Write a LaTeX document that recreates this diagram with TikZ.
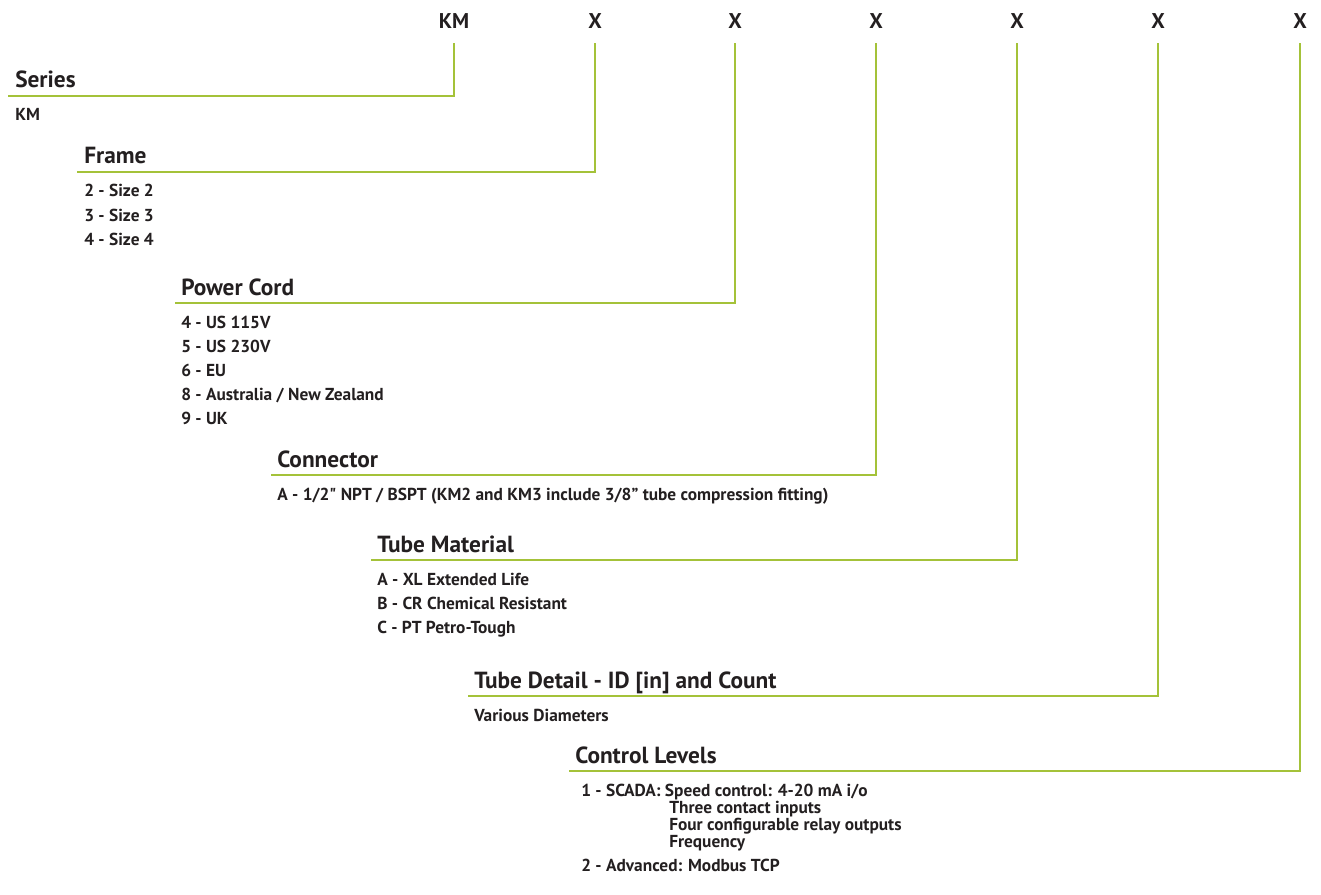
\documentclass[tikz,border=0pt]{standalone}
\usepackage{fontspec}
\setmainfont{PT Sans}[Ligatures=TeXOff]
\usepackage{tikz}
\usetikzlibrary{positioning}
\definecolor{leaf}{RGB}{164,194,57}
\definecolor{ink}{RGB}{35,31,32}

\begin{document}
\begin{tikzpicture}[x=0.75pt,y=-0.75pt]

% Define styles
\tikzstyle{code} = [font=\bfseries\fontsize{16}{18}\selectfont, text=ink, anchor=base, inner sep=0pt]
\tikzstyle{head} = [font=\bfseries\fontsize{17.5}{20}\selectfont, text=ink, anchor=base west, inner sep=0pt]
\tikzstyle{item} = [font=\bfseries\fontsize{13}{15}\selectfont, text=ink, anchor=base west, inner sep=0pt]
\tikzstyle{link} = [draw=leaf, line width=2pt]

\useasboundingbox (0,0) rectangle (1321,895);

% Define code letters
\node (km) [code] at (454,29) {KM};
\node (frame) [code] at (595,29) {X};
\node (cord) [code] at (735,29) {X};
\node (conn) [code] at (876,29) {X};
\node (mat) [code] at (1017,29) {X};
\node (detail) [code] at (1158,29) {X};
\node (ctrl) [code] at (1300,29) {X};

\coordinate (kmT) at ([yshift=-10.5pt]km.base);
\coordinate (frameT) at ([yshift=-10.5pt]frame.base);
\coordinate (cordT) at ([yshift=-10.5pt]cord.base);
\coordinate (connT) at ([yshift=-10.5pt]conn.base);
\coordinate (matT) at ([yshift=-10.5pt]mat.base);
\coordinate (detailT) at ([yshift=-10.5pt]detail.base);
\coordinate (ctrlT) at ([yshift=-10.5pt]ctrl.base);

% Series
\node (seriesH) [head] at (15,88) {Series};
\coordinate (seriesL) at (8,96);
\node (series1) [item] at (15,121) {KM};

% Frame
\node (frameH) [head] at (84,164) {Frame};
\coordinate (frameL) at (77,172);
\node (frame1) [item] at (84,197) {2 - Size 2};
\node (frame2) [item] at (84,221) {3 - Size 3};
\node (frame3) [item] at (84,245) {4 - Size 4};

% Power cord
\node (cordH) [head] at (181,295) {Power Cord};
\coordinate (cordL) at (175,303);
\node (cord1) [item] at (181,328) {4 - US 115V};
\node (cord2) [item] at (181,352) {5 - US 230V};
\node (cord3) [item] at (181,376) {6 - EU};
\node (cord4) [item] at (181,400) {8 - Australia / New Zealand};
\node (cord5) [item] at (181,424) {9 - UK};

% Connector
\node (connH) [head] at (277,467) {Connector};
\coordinate (connL) at (271,475);
\node (conn1) [item] at (277,500) {A - 1/2" NPT / BSPT (KM2 and KM3 include 3/8” tube compression fitting)};

% Tube material
\node (matH) [head] at (377,552) {Tube Material};
\coordinate (matL) at (371,560);
\node (mat1) [item] at (377,585) {A - XL Extended Life};
\node (mat2) [item] at (377,609) {B - CR Chemical Resistant};
\node (mat3) [item] at (377,633) {C - PT Petro-Tough};

% Tube detail
\node (detailH) [head] at (474,688) {Tube Detail - ID [in] and Count};
\coordinate (detailL) at (468,696);
\node (detail1) [item] at (474,721) {Various Diameters};

% Control levels
\node (ctrlH) [head] at (575,763) {Control Levels};
\coordinate (ctrlL) at (569,771);
\node (ctrl1) [item] at (581,796) {1 - SCADA: Speed control: 4-20 mA i/o};
\node (ctrl1b) [item] at (669,813) {Three contact inputs};
\node (ctrl1c) [item] at (669,830) {Four configurable relay outputs};
\node (ctrl1d) [item] at (669,847) {Frequency};
\node (ctrl2) [item] at (581,871) {2 - Advanced: Modbus TCP};

% Draw leader lines
\draw [link] (seriesL) -| (kmT);
\draw [link] (frameL) -| (frameT);
\draw [link] (cordL) -| (cordT);
\draw [link] (connL) -| (connT);
\draw [link] (matL) -| (matT);
\draw [link] (detailL) -| (detailT);
\draw [link] (ctrlL) -| (ctrlT);

\end{tikzpicture}
\end{document}
